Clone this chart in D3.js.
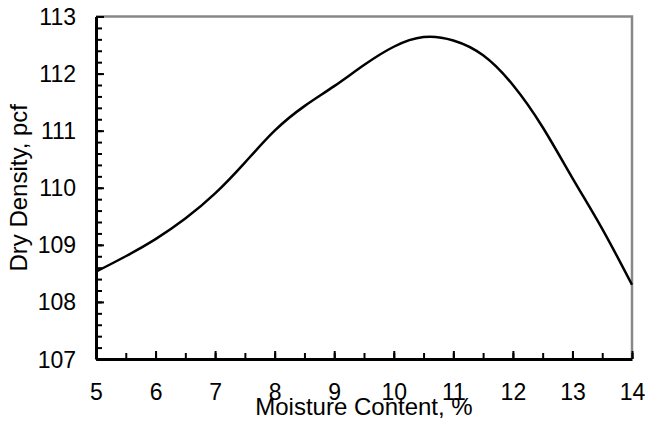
<!DOCTYPE html>
<html>
<head>
<meta charset="utf-8">
<script src="https://cdn.jsdelivr.net/npm/d3@7"></script>
<style>
	body { margin: 0; background: #fff; }
	text { font-family: "Liberation Sans", Arial, sans-serif; fill: #000; }
</style>
</head>
<body>
<svg id="chart" width="647" height="422"></svg>
<script>
// compaction curve values
let moisture = [5, 5.5, 6, 6.5, 7, 7.5, 8, 8.5, 9, 9.5, 10, 10.5, 11, 11.5, 12, 12.5, 13, 13.5, 14];
let density = [108.53, 108.8, 109.1, 109.46, 109.9, 110.44, 111.0, 111.43, 111.78, 112.15, 112.47, 112.64, 112.58, 112.32, 111.8, 111.06, 110.17, 109.28, 108.3];

let xTicks = [5, 6, 7, 8, 9, 10, 11, 12, 13, 14];
let yTicks = [107, 108, 109, 110, 111, 112, 113];

let size = { w: 647, h: 422 };
let margin = { l: 96, r: 15, t: 16.5, b: 63 };

let svg = d3.select("#chart");

let xScale = d3
	.scaleLinear()
	.domain([5, 14])
	.range([margin.l, size.w - margin.r]);

let yScale = d3
	.scaleLinear()
	.domain([107, 113])
	.range([size.h - margin.b, margin.t]);

// top and right frame in grey
svg.append("path")
	.attr("d", `M${margin.l},${margin.t}H${size.w - margin.r}V${size.h - margin.b}`)
	.attr("fill", "none")
	.attr("stroke", "#888")
	.attr("stroke-width", 2.5);

// minor ticks (inside)
let yMinor = d3.range(107, 113.001, 0.2);
svg.append("g")
	.attr("transform", `translate(${margin.l}, 0)`)
	.call(d3.axisRight(yScale).tickValues(yMinor).tickSize(6).tickFormat(""))
	.call((g) => g.select(".domain").remove())
	.selectAll("line").attr("stroke", "#000").attr("stroke-width", 2);

let xMinor = d3.range(5, 14.001, 0.5);
svg.append("g")
	.attr("transform", `translate(0, ${size.h - margin.b})`)
	.call(d3.axisTop(xScale).tickValues(xMinor).tickSize(6).tickFormat(""))
	.call((g) => g.select(".domain").remove())
	.selectAll("line").attr("stroke", "#000").attr("stroke-width", 2);

// major ticks + labels
let yAxis = svg.append("g")
	.attr("transform", `translate(${margin.l}, 0)`)
	.call(d3.axisLeft(yScale)
		.tickValues(yTicks)
		.tickFormat(d3.format("d"))
		.tickSize(-8)
		.tickSizeOuter(0)
		.tickPadding(20));
yAxis.select(".domain").attr("stroke", "#000").attr("stroke-width", 3);
yAxis.selectAll("line").attr("stroke", "#000").attr("stroke-width", 2);
yAxis.selectAll("text")
	.attr("font-size", 23)
	.attr("fill", "#000")
	.attr("dy", "0.35em");

let xAxis = svg.append("g")
	.attr("transform", `translate(0, ${size.h - margin.b})`)
	.call(d3.axisBottom(xScale)
		.tickValues(xTicks)
		.tickFormat(d3.format("d"))
		.tickSize(-8)
		.tickSizeOuter(0));
xAxis.select(".domain").attr("stroke", "#000").attr("stroke-width", 3);
xAxis.selectAll("line").attr("stroke", "#000").attr("stroke-width", 2);
xAxis.selectAll("text")
	.attr("font-size", 23)
	.attr("fill", "#000")
	.attr("y", 41)
	.attr("dy", 0);

// the curve
let points = moisture.map((m, i) => [m, density[i]]);
svg.append("path")
	.datum(points)
	.attr("fill", "none")
	.attr("stroke", "#000")
	.attr("stroke-width", 2.5)
	.attr("d", d3.line()
		.x((d) => xScale(d[0]))
		.y((d) => yScale(d[1]))
		.curve(d3.curveNatural));

// axis titles
svg.append("text")
	.attr("x", (margin.l + size.w - margin.r) / 2)
	.attr("y", 415)
	.attr("text-anchor", "middle")
	.attr("font-size", 24)
	.text("Moisture Content, %");

svg.append("text")
	.attr("transform", `translate(26.5, ${(margin.t + size.h - margin.b) / 2}) rotate(-90)`)
	.attr("text-anchor", "middle")
	.attr("font-size", 24)
	.text("Dry Density, pcf");
</script>
</body>
</html>
